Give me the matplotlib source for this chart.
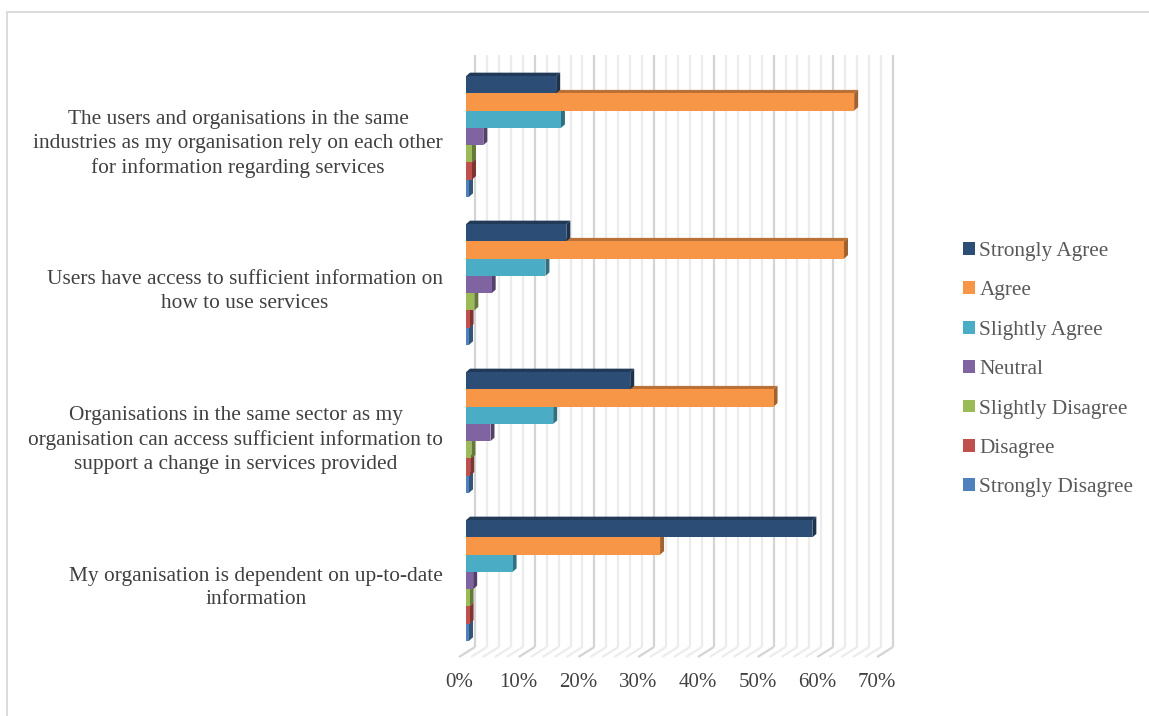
import matplotlib

matplotlib.use("Agg")
import matplotlib.pyplot as plt
import matplotlib.transforms as mtransforms
import numpy as np
from matplotlib.patches import Polygon, Rectangle

W, H, DPI = 1149, 716, 100

categories = [
    "The users and organisations in the same\nindustries as my organisation rely on each other\nfor information regarding services",
    "Users have access to sufficient information on\nhow to use services",
    "Organisations in the same sector as my\norganisation can access sufficient information to\nsupport a change in services provided",
    "My organisation is dependent on up-to-date\ninformation",
]
series_names = [
    "Strongly Agree", "Agree", "Slightly Agree", "Neutral",
    "Slightly Disagree", "Disagree", "Strongly Disagree",
]
strongly_agree = [15.1, 16.8, 27.5, 58.0]
agree = [65.0, 63.3, 51.5, 32.5]
slightly_agree = [15.9, 13.3, 14.6, 7.8]
neutral = [2.9, 4.3, 4.1, 1.2]
slightly_disagree = [1.0, 1.4, 0.9, 0.6]
disagree = [1.0, 0.6, 0.7, 0.6]
strongly_disagree = [0.5, 0.5, 0.5, 0.5]
x_ticks = [0, 10, 20, 30, 40, 50, 60, 70]
x_tick_labels = [f"{t}%" for t in x_ticks]

series_values = [strongly_agree, agree, slightly_agree, neutral,
                 slightly_disagree, disagree, strongly_disagree]
colors = ["#2C4D75", "#F79646", "#4BACC6", "#8064A2", "#9BBB59", "#C0504D", "#4F81BD"]

FONT = "Liberation Serif"
TEXT = "#404040"

fig = plt.figure(figsize=(W / DPI, H / DPI), dpi=DPI)

# chart area outline
fig.patches.append(Rectangle((7 / W, -0.05), 1.1, (H - 12) / H + 0.05, transform=fig.transFigure,
                             fill=False, edgecolor="#d9d9d9", lw=1.3))

# plot area in pixels (front plane of the bars)
left, right, top, bottom = 466, 884, 55, 647
ax = fig.add_axes([left / W, (H - bottom) / H, (right - left) / W, (bottom - top) / H])
xmax = 70
ax.set_xlim(0, xmax)
px_per_cat = 148.0
y_top = (top - 136.5) / px_per_cat
y_bot = (bottom - 136.5) / px_per_cat
ax.set_ylim(y_bot, y_top)
for s in ax.spines.values():
    s.set_visible(False)

ux = xmax / (right - left)          # data units per pixel, x
uy = 1.0 / px_per_cat               # data units per pixel, y
ay = 1.0 / (bottom - top)           # axes fraction per pixel, y

# back wall gridlines and their floor continuation
blend = mtransforms.blended_transform_factory(ax.transData, ax.transAxes)
for v in range(0, xmax + 1, 2):
    major = v % 10 == 0
    c = "#d4d4d4" if major else "#ececec"
    xw = v + 9 * ux
    ax.plot([xw, xw], [0, 1], transform=blend, color=c, lw=1.6, zorder=1, clip_on=False,
            solid_capstyle="butt")
    ax.plot([xw, v - 7 * ux], [0, -10 * ay], transform=blend, color=c, lw=1.6, zorder=1,
            clip_on=False, solid_capstyle="butt")


def shade(color, f):
    r, g, b = matplotlib.colors.to_rgb(color)
    return (r * f, g * f, b * f)


# 3-D looking bars: front face from barh, top and right faces as polygons
n = len(series_names)
bar_h = 0.1165
dx, dy = 4 * ux, 3.5 * uy
y = np.arange(len(categories))
for j, (name, vals, col) in enumerate(zip(series_names, series_values, colors)):
    yc = y - (n - 1) / 2 * bar_h + j * bar_h
    z = 10 + (n - j) * 3
    ax.barh(yc, vals, height=bar_h, color=col, label=name, zorder=z, linewidth=0)
    for yy, v in zip(yc, vals):
        yt, yb = yy - bar_h / 2, yy + bar_h / 2
        ax.add_patch(Polygon([(0, yt), (v, yt), (v + dx, yt - dy), (dx, yt - dy)],
                             closed=True, facecolor=shade(col, 0.75), edgecolor="none", zorder=z - 1))
        ax.add_patch(Polygon([(v, yt), (v, yb), (v + dx, yb - dy), (v + dx, yt - dy)],
                             closed=True, facecolor=shade(col, 0.65), edgecolor="none", zorder=z - 1))

# axis labels
ax.set_xticks(x_ticks)
ax.set_xticklabels(x_tick_labels, fontfamily=FONT, fontsize=15, color=TEXT)
ax.tick_params(axis="x", length=0, pad=19)
for lab in ax.get_xticklabels():
    lab.set_transform(lab.get_transform() + mtransforms.ScaledTranslation(-7 / DPI, 0, fig.dpi_scale_trans))

ax.set_yticks(y)
ax.set_yticklabels(categories, fontfamily=FONT, fontsize=15.4, color=TEXT,
                   multialignment="center", linespacing=1.33)
ax.tick_params(axis="y", length=0, pad=16.5)
for lab in ax.get_yticklabels():
    lab.set_transform(lab.get_transform() + mtransforms.ScaledTranslation(0, -2.5 / DPI, fig.dpi_scale_trans))

leg = fig.legend(loc="upper left", bbox_to_anchor=(963 / W, 1 - 242 / H), frameon=False,
                 prop={"family": FONT, "size": 15.3}, handlelength=0.55, handleheight=0.55,
                 handletextpad=0.22, labelspacing=0.96, borderpad=0, borderaxespad=0)
for t in leg.get_texts():
    t.set_color("#595959")

fig.savefig("out.png", dpi=DPI, facecolor="white")
